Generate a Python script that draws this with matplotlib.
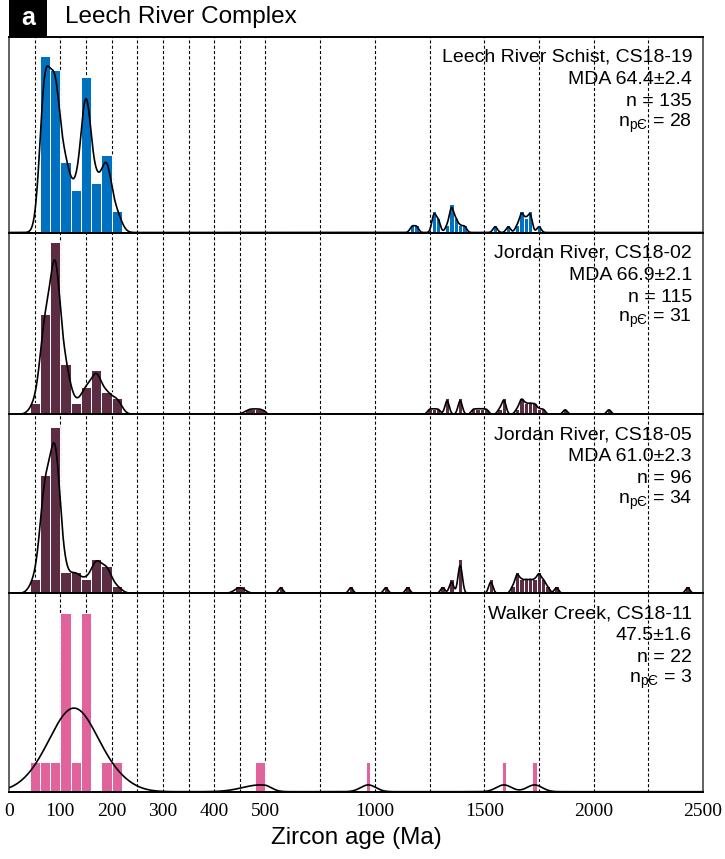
import numpy as np
import matplotlib
matplotlib.use("Agg")
import matplotlib.pyplot as plt
from matplotlib.patches import Rectangle

# ---------------- data ----------------
# Detrital zircon U-Pb ages binned in 20 Myr bins: left bin edge (Ma) and grain count
BIN_WIDTH = 20

cs1819_bins = [60, 80, 100, 120, 140, 160, 180, 200,
               1160, 1180, 1260, 1280, 1320, 1340, 1360, 1380, 1400,
               1540, 1600, 1640, 1660, 1680, 1700, 1740]
cs1819_counts = [25, 23, 10, 6, 22, 7, 11, 3,
                 1, 1, 3, 2, 1, 4, 2, 1, 1,
                 1, 1, 1, 3, 2, 3, 1]

cs1802_bins = [40, 60, 80, 100, 120, 140, 160, 180, 200, 460, 480,
               1240, 1260, 1280, 1320, 1380, 1440, 1460, 1480, 1500,
               1560, 1580, 1640, 1660, 1680, 1700, 1720, 1740, 1760,
               1860, 2060]
cs1802_counts = [2, 18, 31, 9, 2, 5, 8, 4, 3, 1, 1,
                 1, 1, 1, 3, 3, 1, 1, 1, 1,
                 1, 3, 1, 3, 2, 2, 2, 1, 1,
                 1, 1]

cs1805_bins = [40, 60, 80, 100, 120, 140, 160, 180, 200, 440,
               560, 880, 1040, 1140, 1300, 1340, 1380, 1520,
               1620, 1640, 1660, 1680, 1700, 1720, 1740, 1760, 1780,
               1820, 2420]
cs1805_counts = [2, 17, 24, 3, 3, 2, 5, 4, 1, 1,
                 1, 1, 1, 1, 1, 2, 5, 2,
                 1, 3, 2, 2, 2, 2, 3, 2, 1,
                 1, 1]

cs1811_bins = [40, 60, 80, 100, 120, 140, 180, 200, 480, 960, 1580, 1720]
cs1811_counts = [1, 1, 1, 6, 1, 6, 1, 1, 1, 1, 1, 1]

sample_names = ["Leech River Schist, CS18-19", "Jordan River, CS18-02",
                "Jordan River, CS18-05", "Walker Creek, CS18-11"]
mda_labels = ["MDA 64.4\u00b12.4", "MDA 66.9\u00b12.1", "MDA 61.0\u00b12.3", "47.5\u00b11.6"]
n_total = [135, 115, 96, 22]
n_precambrian = [28, 31, 34, 3]

tick_ages = [0, 100, 200, 300, 400, 500, 1000, 1500, 2000, 2500]

# ---------------- style ----------------
bar_colors = ["#0070C0", "#5C2C43", "#5C2C43", "#E0639B"]
kde_bandwidth = [10, 10, 10, 35]       # Myr
y_tops = [27.7, 32.7, 25.8, 6.68]      # count-axis upper limits

plt.rcParams["font.family"] = ["Liberation Sans", "DejaVu Sans"]
plt.rcParams["mathtext.fontset"] = "custom"
plt.rcParams["mathtext.rm"] = "Liberation Sans"
plt.rcParams["mathtext.it"] = "Liberation Sans"
plt.rcParams["lines.scale_dashes"] = False

# piecewise-linear age axis: 0-500 Ma expanded, 500-2500 Ma compressed
K = 0.4265


def fwd(x):
    x = np.asarray(x, dtype=float)
    return np.where(x <= 500, x, 500 + (x - 500) * K)


def inv(y):
    y = np.asarray(y, dtype=float)
    return np.where(y <= 500, y, 500 + (y - 500) / K)


def kde_counts(bins, counts, bw, grid):
    centers = np.asarray(bins, dtype=float) + BIN_WIDTH / 2
    w = np.asarray(counts, dtype=float)
    z = (grid[:, None] - centers[None, :]) / bw
    dens = (w[None, :] * np.exp(-0.5 * z ** 2)).sum(axis=1) / (bw * np.sqrt(2 * np.pi))
    return dens * BIN_WIDTH


W, H = 725, 859
fig = plt.figure(figsize=(W / 100, H / 100), dpi=100)

left_px, right_px = 9, 703
panel_edges_px = [37, 232.5, 414.3, 593.3, 791.7]

samples = [(cs1819_bins, cs1819_counts), (cs1802_bins, cs1802_counts),
           (cs1805_bins, cs1805_counts), (cs1811_bins, cs1811_counts)]

grid_lines = list(np.arange(50, 501, 50)) + list(np.arange(750, 2251, 250))
age_grid = np.linspace(0, 2500, 6001)

for i, (bins, counts) in enumerate(samples):
    top, bot = panel_edges_px[i], panel_edges_px[i + 1]
    ax = fig.add_axes([left_px / W, 1 - bot / H, (right_px - left_px) / W, (bot - top) / H])
    ax.set_xscale("function", functions=(fwd, inv))
    ax.set_xlim(0, 2500)
    ax.set_ylim(0, y_tops[i])

    for g in grid_lines:
        ax.axvline(g, color="black", lw=0.8, ls=(0, (2.2, 1.6)), zorder=0.5)

    ax.bar(bins, counts, width=BIN_WIDTH, align="edge", color=bar_colors[i],
           edgecolor="white", linewidth=0.7, zorder=2)
    ax.plot(age_grid, kde_counts(bins, counts, kde_bandwidth[i], age_grid),
            color="black", lw=1.2, zorder=3)

    ax.set_yticks([])
    for s in ("top", "bottom"):
        ax.spines[s].set_linewidth(1.4)
        ax.spines[s].set_color("black")
    for s in ("left", "right"):
        ax.spines[s].set_linewidth(1.3)
        ax.spines[s].set_color("#555555")

    ax.set_xticks(tick_ages)
    ax.xaxis.set_minor_locator(matplotlib.ticker.NullLocator())
    ax.tick_params(axis="x", length=0, pad=8)
    if i < 3:
        ax.set_xticklabels([])
    else:
        ax.set_xticklabels([str(t) for t in tick_ages],
                           fontfamily="Liberation Serif", fontsize=14)

    lines = [sample_names[i], mda_labels[i], f"n = {n_total[i]}",
             "n$_{\\mathrm{p\u0404}}$" + f" = {n_precambrian[i]}"]
    offsets_px = [20.5, 42.5, 64.5, 86]
    for txt, off in zip(lines, offsets_px):
        ax.annotate(txt, xy=(1, 1), xycoords="axes fraction",
                    xytext=(-11 * 0.72, -off * 0.72), textcoords="offset points",
                    ha="right", va="center", fontsize=14, zorder=5)

# panel tag and title
fig.patches.append(Rectangle((9 / W, 1 - 37 / H), 38 / W, 37 / H,
                             transform=fig.transFigure, facecolor="black",
                             edgecolor="none", zorder=5))
fig.text(28 / W, 1 - 18 / H, "a", color="white", fontsize=18, fontweight="bold",
         ha="center", va="center", zorder=6)
fig.text(65 / W, 1 - 17 / H, "Leech River Complex", fontsize=17.5,
         ha="left", va="center")

fig.text(356 / W, 1 - 838 / H, "Zircon age (Ma)", fontsize=17.5,
         ha="center", va="center")

fig.savefig("out.png", dpi=100)
